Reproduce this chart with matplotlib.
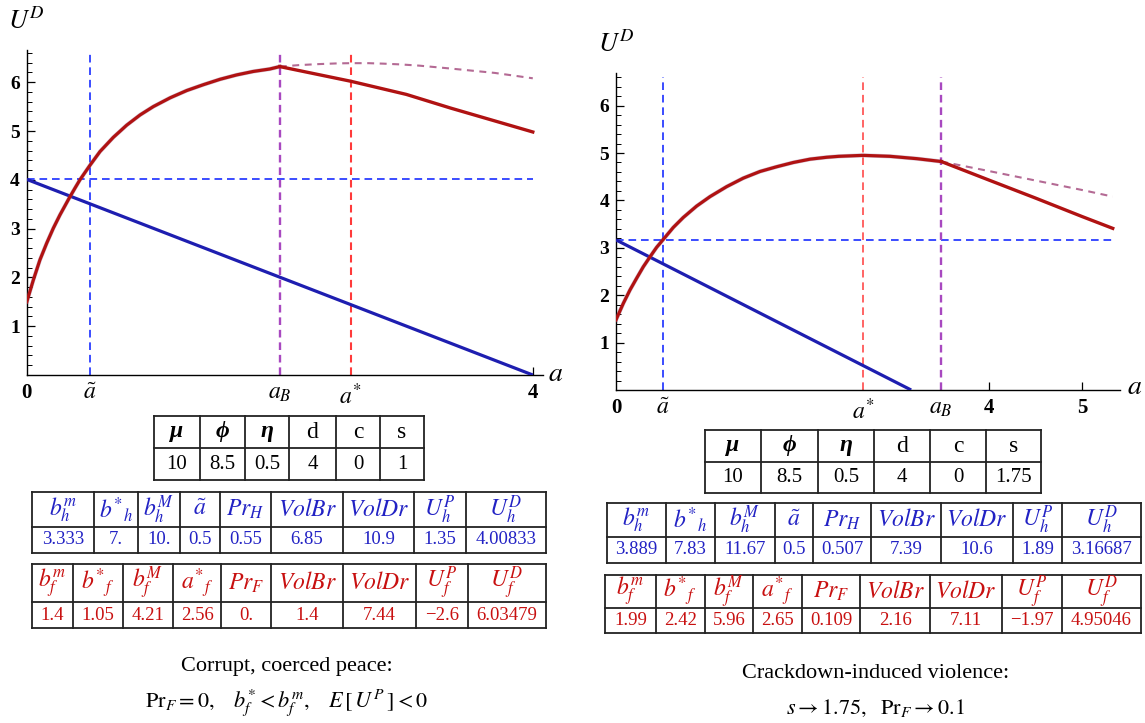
import matplotlib
matplotlib.use('Agg')
import matplotlib.pyplot as plt
from matplotlib.lines import Line2D

plt.rcParams['font.family'] = ['Liberation Serif', 'DejaVu Serif']
plt.rcParams['mathtext.fontset'] = 'stix'
plt.rcParams['lines.scale_dashes'] = False

# ---------------- data ----------------
# Left panel (s = 1)
L_curve_a = [0.0, 0.052, 0.104, 0.157, 0.21, 0.262, 0.334, 0.381, 0.42, 0.5, 0.579, 0.684,
             0.79, 0.896, 1.0, 1.133, 1.265, 1.397, 1.528, 1.66, 1.79, 1.92, 2.0]
L_curve_u = [1.50, 1.95, 2.36, 2.70, 3.01, 3.28, 3.62, 3.83, 4.0, 4.30, 4.58, 4.87,
             5.12, 5.33, 5.50, 5.68, 5.83, 5.95, 6.06, 6.15, 6.22, 6.27, 6.32]
L_after_a = [2.0, 2.56, 3.0, 3.35, 4.0]
L_after_u = [6.32, 6.02, 5.75, 5.47, 4.98]
L_dash_a = [2.0, 2.15, 2.3, 2.45, 2.56, 2.7, 2.82, 2.95, 3.1, 3.35, 3.7, 4.0]
L_dash_u = [6.32, 6.35, 6.37, 6.385, 6.39, 6.39, 6.38, 6.365, 6.34, 6.28, 6.19, 6.08]
L_blue_a = [0.0, 4.0]
L_blue_u = [4.00833, 0.0]
L_UhD = 4.00833
L_atilde, L_aB, L_astar = 0.5, 2.0, 2.56
L_xticks = [0, 0.5, 2.0, 2.56, 4]
L_xticklabels = ['0', r'$\tilde{a}$', r'$a_B$', r'$a^{*}$', '4']

# Right panel (s = 1.75)
R_curve_a = [0.0, 0.079, 0.15, 0.222, 0.293, 0.365, 0.436, 0.5, 0.615, 0.722, 0.865, 1.009,
             1.187, 1.366, 1.545, 1.724, 1.903, 2.082, 2.26, 2.39, 2.65, 2.94, 3.23, 3.49]
R_curve_u = [1.48, 1.83, 2.11, 2.36, 2.60, 2.81, 3.01, 3.16, 3.43, 3.64, 3.88, 4.08,
             4.29, 4.47, 4.61, 4.71, 4.80, 4.87, 4.91, 4.93, 4.95, 4.93, 4.88, 4.82]
R_after_a = [3.49, 4.0, 4.5, 5.0, 5.33]
R_after_u = [4.82, 4.43, 4.05, 3.66, 3.41]
R_dash_a = [3.49, 4.0, 4.5, 5.0, 5.33]
R_dash_u = [4.82, 4.62, 4.42, 4.22, 4.08]
R_blue_a = [0.0, 3.16687]
R_blue_u = [3.16687, 0.0]
R_UhD = 3.16687
R_atilde, R_aB, R_astar = 0.5, 3.49, 2.65
R_xticks = [0, 0.5, 2.65, 3.49, 4, 5]
R_xticklabels = ['0', r'$\tilde{a}$', r'$a^{*}$', r'$a_B$', '4', '5']

yticks = [1, 2, 3, 4, 5, 6]

# Tables
param_headers = ['μ', 'ϕ', 'η', 'd', 'c', 's']
L_params = ['10', '8.5', '0.5', '4', '0', '1']
R_params = ['10', '8.5', '0.5', '4', '0', '1.75']
h_headers = [r'$b_h^m$', r'$b^{*}{}_h$', r'$b_h^M$', r'$\tilde{a}$', r'$Pr_H$',
             r'$VolBr$', r'$VolDr$', r'$U_h^P$', r'$U_h^D$']
f_headers = [r'$b_f^m$', r'$b^{*}{}_f$', r'$b_f^M$', r'$a^{*}{}_f$', r'$Pr_F$',
             r'$VolBr$', r'$VolDr$', r'$U_f^P$', r'$U_f^D$']
L_h_vals = ['3.333', '7.', '10.', '0.5', '0.55', '6.85', '10.9', '1.35', '4.00833']
L_f_vals = ['1.4', '1.05', '4.21', '2.56', '0.', '1.4', '7.44', '\u22122.6', '6.03479']
R_h_vals = ['3.889', '7.83', '11.67', '0.5', '0.507', '7.39', '10.6', '1.89', '3.16687']
R_f_vals = ['1.99', '2.42', '5.96', '2.65', '0.109', '2.16', '7.11', '\u22121.97', '4.95046']

L_caption1 = 'Corrupt, coerced peace:'
L_caption2 = r'$\mathrm{Pr}_F = 0,\quad b^{*}_f < b^{m}_f,\quad E\,[\,U^{P}\,] < 0$'
R_caption1 = 'Crackdown-induced violence:'
R_caption2 = r'$s \rightarrow 1.75,\ \ \mathrm{Pr}_F \rightarrow 0.1$'

# ---------------- styling ----------------
RED = '#b01212'
BLUE = '#1e1eb0'
DBLUE = '#3a4cff'
PURPLE = '#a848c0'
DRED = '#ff3a3a'
MAUVE = '#b46a94'
TBLUE = '#2222c4'
TRED = '#c81010'

W, H = 1145, 723
fig = plt.figure(figsize=(W / 100, H / 100), dpi=100)


def axes_px(x0, y0, x1, y1):
    return fig.add_axes([x0 / W, 1 - y1 / H, (x1 - x0) / W, (y1 - y0) / H])


def panel(ax, ca, cu, aa, au, da, du, ba, bu, uhd, at, ab, ast, xt, xtl, xmax, ymax, endx,
          red_lw):
    ax.set_xlim(0, xmax)
    ax.set_ylim(0, ymax)
    for sp in ['top', 'right']:
        ax.spines[sp].set_visible(False)
    for sp in ['left', 'bottom']:
        ax.spines[sp].set_linewidth(1.0)
    vtop = 6.6
    ax.plot([0, endx], [uhd, uhd], color=DBLUE, lw=1.4, dashes=(5.5, 3.5), zorder=2)
    ax.plot([at, at], [0, vtop], color=DBLUE, lw=1.4, dashes=(5.5, 3.5), zorder=2)
    ax.plot([ab, ab], [0, vtop], color=PURPLE, lw=1.7, dashes=(5.5, 3.5), zorder=2)
    ax.plot([ast, ast], [0, vtop], color=DRED, lw=red_lw, dashes=(5.5, 3.5), zorder=2)
    ax.plot(da, du, color=MAUVE, lw=1.5, dashes=(5, 4), zorder=3)
    ax.plot(ba, bu, color=BLUE, lw=2.3, zorder=4, solid_capstyle='butt')
    ax.plot(ca, cu, color='#8a5a8a', lw=3.0, zorder=5, alpha=0.35, solid_joinstyle='round')
    ax.plot(ca, cu, color=RED, lw=2.3, zorder=6, solid_joinstyle='round')
    ax.plot(aa, au, color=RED, lw=2.4, zorder=6, solid_joinstyle='round')

    ax.set_yticks(yticks)
    ax.set_yticklabels([str(v) for v in yticks], fontweight='bold', fontsize=14)
    ax.set_yticks([v / 5 for v in range(1, 34) if v % 5 != 0], minor=True)
    ax.tick_params(axis='y', which='major', direction='in', length=6, width=0.9, pad=5)
    ax.tick_params(axis='y', which='minor', direction='in', length=3.5, width=0.7)
    ax.set_xticks(xt)
    ax.set_xticklabels(xtl, fontsize=15, fontweight='bold')
    ax.tick_params(axis='x', which='major', direction='in', length=6, width=0.9, pad=6)
    for t, v, lab in zip(ax.xaxis.get_major_ticks(), xt, ax.get_xticklabels()):
        if v not in (4, 5):
            t.tick1line.set_markersize(0)
        if v not in (0, 4, 5):
            lab.set_fontsize(17)


axL = axes_px(26.8, 50, 543, 375)
panel(axL, L_curve_a, L_curve_u, L_after_a, L_after_u, L_dash_a, L_dash_u,
      L_blue_a, L_blue_u, L_UhD, L_atilde, L_aB, L_astar, L_xticks, L_xticklabels,
      (543 - 26.8) / 126.5, (375 - 50) / 48.8, 4.0, 1.5)

axR = axes_px(616, 73, 1120, 390)
panel(axR, R_curve_a, R_curve_u, R_after_a, R_after_u, R_dash_a, R_dash_u,
      R_blue_a, R_blue_u, R_UhD, R_atilde, R_aB, R_astar, R_xticks, R_xticklabels,
      (1120 - 616) / 93.2, (390 - 73) / 47.4, 5.33, 1.1)


def ftext(px, py, s, **kw):
    fig.text(px / W, 1 - py / H, s, **kw)


# axis labels
ftext(26, 21, r'$U^{D}$', fontsize=19, ha='center', va='center')
ftext(616, 44, r'$U^{D}$', fontsize=19, ha='center', va='center')
ftext(556, 374, r'$a$', fontsize=20, ha='center', va='center')
ftext(1135, 388, r'$a$', fontsize=20, ha='center', va='center')


def draw_table(cols, rows, cells, colors, sizes, weights=None, styles=None):
    kw = dict(color='#222222', lw=1.3, transform=fig.transFigure)
    for x in cols:
        fig.add_artist(Line2D([x / W, x / W], [1 - rows[0] / H, 1 - rows[-1] / H], **kw))
    for y in rows:
        fig.add_artist(Line2D([cols[0] / W, cols[-1] / W], [1 - y / H, 1 - y / H], **kw))
    for r, rowtxt in enumerate(cells):
        yc = (rows[r] + rows[r + 1]) / 2
        for c, s in enumerate(rowtxt):
            xc = (cols[c] + cols[c + 1]) / 2
            w = weights[r][c] if weights else 'normal'
            st = styles[r][c] if styles else 'normal'
            ftext(xc, yc, s, color=colors[r], fontsize=sizes[r], ha='center', va='center',
                  fontweight=w, fontstyle=st)


p_weights = [['bold', 'bold', 'bold', 'normal', 'normal', 'normal'], ['normal'] * 6]
p_styles = [['italic', 'italic', 'italic', 'normal', 'normal', 'normal'], ['normal'] * 6]

# Left tables
draw_table([154, 200, 245, 289, 336, 380, 424], [416, 448, 480],
           [param_headers, L_params], ['black', 'black'], [17, 15], p_weights, p_styles)
draw_table([32, 94, 137.5, 180, 220, 271, 343, 414, 466, 546], [492, 527, 553],
           [h_headers, L_h_vals], [TBLUE, TBLUE], [17, 13.5])
draw_table([32, 73, 123, 173, 221, 271, 343, 416, 468, 546], [564, 602, 628],
           [f_headers, L_f_vals], [TRED, TRED], [17, 13.5])

# Right tables
draw_table([704.5, 761, 818, 874, 930, 986, 1041], [430, 462, 493],
           [param_headers, R_params], ['black', 'black'], [17, 15], p_weights, p_styles)
draw_table([607, 666, 715, 775, 813, 871, 941, 1013, 1062, 1141], [503, 537, 563],
           [h_headers, R_h_vals], [TBLUE, TBLUE], [17, 13.5])
draw_table([605, 656, 704.5, 753, 802, 860, 930, 1002, 1062, 1141], [575, 608, 633],
           [f_headers, R_f_vals], [TRED, TRED], [17, 13.5])

# Captions
ftext(287, 667, L_caption1, fontsize=16, ha='center', va='center')
ftext(287, 702, L_caption2, fontsize=16, ha='center', va='center')
ftext(876, 673, R_caption1, fontsize=16, ha='center', va='center')
ftext(876, 708, R_caption2, fontsize=16, ha='center', va='center')

fig.savefig('out.png', dpi=100)
